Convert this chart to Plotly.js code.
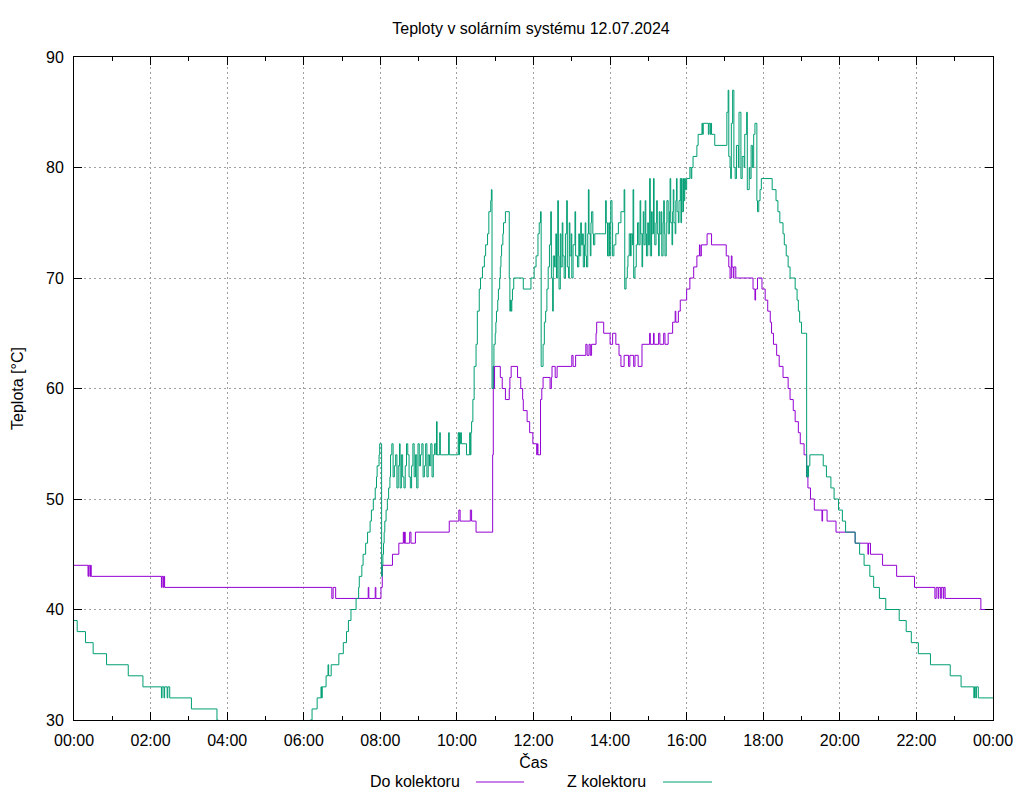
<!DOCTYPE html>
<html>
<head>
<meta charset="utf-8">
<script src="https://cdn.plot.ly/plotly-3.0.1.min.js"></script>
<style>html,body{margin:0;padding:0;background:#fff;}#chart{width:1024px;height:800px;}</style>
</head>
<body>
<div id="chart"></div>
<script>
const chartTitle = "Teploty v solárním systému 12.07.2024";
const xTitle = "Čas";
const yTitle = "Teplota [°C]";
const seriesNames = ["Do kolektoru", "Z kolektoru"];
const seriesColors = ["#9400d3", "#009e73"];
const day = "2024-07-12";
const nextDay = "2024-07-13";

const doTimes = [
"00:00","00:22","00:23","00:25","00:26","00:27","02:17","02:18","02:20","02:21",
"02:22","06:44","06:46","06:50","07:41","07:42","07:52","07:53","08:01","08:03",
"08:19","08:29","08:36","08:37","08:38","08:39","08:46","08:48","08:55","09:48",
"10:03","10:05","10:21","10:23","10:30","10:56","10:57","10:58","10:59","11:08",
"11:11","11:16","11:22","11:23","11:25","11:35","11:40","11:43","11:44","11:50",
"11:54","11:59","12:05","12:06","12:07","12:11","12:13","12:15","12:26","12:28",
"12:29","12:34","12:37","13:00","13:02","13:06","13:22","13:24","13:27","13:29",
"13:31","13:38","13:39","13:50","14:00","14:04","14:09","14:14","14:17","14:22",
"14:29","14:31","14:37","14:39","14:44","14:50","15:02","15:03","15:08","15:09",
"15:16","15:18","15:24","15:26","15:31","15:38","15:42","15:43","15:47","15:50",
"16:00","16:05","16:11","16:16","16:20","16:21","16:23","16:32","16:39","17:02",
"17:06","17:08","17:10","17:11","17:13","17:14","17:17","17:44","17:47","17:48",
"17:51","17:58","18:03","18:07","18:11","18:13","18:16","18:21","18:25","18:31",
"18:39","18:42","18:47","18:50","18:55","18:58","19:04","19:08","19:10","19:14",
"19:20","19:32","19:33","19:40","19:54","20:24","20:44","20:45","20:48","21:07",
"21:29","21:57","22:29","22:31","22:34","22:35","22:38","22:39","22:42","22:43",
"22:45","23:41","24:00"];
const doValues = [
44,43,44,43,44,43,42,43,42,43,
42,41,42,41,42,41,42,41,42,44,
45,46,47,46,47,46,47,46,47,48,
49,48,49,48,47,54,62,60,62,61,
60,59,60,61,62,61,60,59,58,57,
56,55,54,55,54,59,60,61,60,61,
62,61,62,63,62,63,64,63,64,63,
64,65,66,65,64,65,64,63,62,63,
62,63,62,63,62,64,65,64,65,64,
65,64,65,64,65,66,67,66,67,68,
69,70,71,72,73,72,73,74,73,72,
71,70,72,71,70,71,70,69,68,69,
70,69,68,67,66,65,64,63,62,61,
60,59,58,57,56,55,54,52,51,50,
49,48,49,48,47,46,45,46,45,44,
43,42,41,42,41,42,41,42,41,42,
41,40,40];

const zTimes = [
"00:00","00:05","00:18","00:30","00:51","01:25","01:48","02:17","02:18","02:21",
"02:22","02:26","02:27","02:30","03:04","03:44","03:46","06:10","06:13","06:21",
"06:27","06:28","06:29","06:35","06:38","06:39","06:43","06:55","07:02","07:07",
"07:10","07:14","07:22","07:26","07:27","07:31","07:33","07:37","07:40","07:44",
"07:46","07:49","07:52","07:54","07:55","07:58","07:59","08:02","08:03","08:04",
"08:05","08:06","08:07","08:09","08:11","08:13","08:15","08:16","08:18","08:20",
"08:22","08:24","08:26","08:28","08:30","08:31","08:33","08:35","08:37","08:39",
"08:41","08:43","08:45","08:47","08:49","08:51","08:53","08:55","08:57","08:59",
"09:01","09:03","09:05","09:07","09:09","09:11","09:13","09:15","09:17","09:19",
"09:21","09:23","09:25","09:27","09:28","09:29","09:33","09:34","09:47","09:48",
"10:02","10:03","10:04","10:05","10:06","10:07","10:15","10:20","10:21","10:22",
"10:23","10:25","10:27","10:30","10:32","10:35","10:37","10:40","10:43","10:45",
"10:48","10:50","10:53","10:54","10:55","10:57","10:58","11:00","11:01","11:02",
"11:04","11:05","11:07","11:08","11:09","11:10","11:12","11:13","11:16","11:22",
"11:23","11:24","11:25","11:26","11:27","11:29","11:44","11:56","12:01","12:04",
"12:07","12:09","12:11","12:12","12:15","12:17","12:19","12:21","12:23","12:25",
"12:27","12:28","12:30","12:31","12:33","12:35","12:36","12:38","12:39","12:40",
"12:42","12:43","12:45","12:46","12:48","12:50","12:52","12:53","12:55","12:56",
"12:57","12:59","13:00","13:02","13:05","13:06","13:09","13:11","13:12","13:14",
"13:15","13:17","13:18","13:20","13:21","13:22","13:23","13:25","13:26","13:27",
"13:29","13:30","13:31","13:33","13:34","13:36","13:53","13:54","13:56","13:58",
"13:59","14:01","14:03","14:04","14:06","14:09","14:13","14:17","14:22","14:23",
"14:25","14:27","14:28","14:30","14:32","14:33","14:35","14:36","14:37","14:39",
"14:41","14:43","14:45","14:47","14:48","14:50","14:51","14:52","14:53","14:55",
"14:56","14:57","14:59","15:00","15:02","15:03","15:05","15:06","15:08","15:09",
"15:10","15:12","15:13","15:14","15:16","15:17","15:18","15:20","15:21","15:23",
"15:24","15:25","15:26","15:28","15:29","15:31","15:33","15:34","15:35","15:37",
"15:38","15:39","15:40","15:42","15:43","15:44","15:45","15:47","15:48","15:50",
"15:51","15:52","15:53","15:55","15:56","15:57","15:58","16:00","16:05","16:07",
"16:08","16:10","16:16","16:18","16:24","16:25","16:26","16:34","16:35","16:37",
"16:38","16:39","16:44","17:03","17:05","17:06","17:08","17:09","17:10","17:12",
"17:14","17:16","17:18","17:21","17:22","17:25","17:27","17:30","17:31","17:34",
"17:35","17:38","17:39","17:41","17:43","17:45","17:47","17:50","17:51","17:53",
"17:55","17:57","18:14","18:20","18:23","18:26","18:31","18:33","18:36","18:39",
"18:42","18:50","18:53","18:55","18:57","19:00","19:08","19:09","19:10","19:11",
"19:13","19:34","19:39","19:46","19:51","19:58","20:04","20:09","20:24","20:31",
"20:38","20:47","20:53","21:02","21:12","21:33","21:44","21:52","22:03","22:22",
"22:53","23:10","23:30","23:31","23:33","23:34","23:37","24:00"];
const zValues = [
39,38,37,36,35,34,33,32,33,32,
33,32,33,32,31,30,28,30,31,32,
33,32,33,34,35,34,35,36,37,38,
39,40,41,42,43,44,45,46,47,48,
49,50,51,52,53,54,55,43,44,45,
46,47,48,49,50,51,52,54,55,52,
53,54,51,53,55,51,54,52,51,53,
55,54,52,51,53,55,52,54,51,55,
53,54,55,52,53,55,52,54,53,55,
52,54,55,54,57,54,56,54,56,54,
56,54,56,55,56,55,54,56,54,56,
57,59,62,64,67,69,70,71,72,73,
74,76,77,78,60,62,64,65,66,67,
68,69,70,71,72,73,74,75,76,70,
67,68,67,68,69,70,69,70,71,72,
74,75,76,62,64,66,67,69,71,73,
76,70,67,72,71,74,70,77,72,69,
74,71,75,72,70,74,77,71,70,75,
72,74,70,73,76,72,71,74,72,75,
73,74,71,73,75,72,71,74,78,74,
72,75,76,74,73,74,77,75,72,75,
72,77,75,72,73,74,75,76,78,69,
70,71,72,74,72,74,73,78,70,71,
73,75,73,77,74,71,74,76,73,77,
74,72,75,73,79,72,76,74,79,75,
73,75,77,74,72,76,74,76,72,75,
77,74,72,75,77,74,76,79,75,73,
76,78,75,74,77,79,76,75,77,79,
75,79,76,79,77,79,78,79,80,79,
80,81,82,83,84,83,84,83,84,83,
84,83,82,85,87,81,80,79,84,87,
80,79,82,80,85,79,81,80,83,85,
78,80,79,82,80,83,84,77,76,77,
78,79,78,77,76,75,74,73,72,71,
70,69,68,67,66,65,52,53,52,53,
54,53,52,51,50,49,48,47,46,45,
44,43,42,41,40,39,38,37,36,35,
34,33,32,33,32,33,32,32];

const yTicks = [30, 40, 50, 60, 70, 80, 90];

function toDate(t) {
  return t === "24:00" ? nextDay + " 00:00" : day + " " + t;
}

const traces = [
  {x: doTimes.map(toDate), y: doValues, name: seriesNames[0]},
  {x: zTimes.map(toDate), y: zValues, name: seriesNames[1]}
].map((t, i) => Object.assign(t, {
  type: "scatter", mode: "lines",
  line: {color: seriesColors[i], width: 1, shape: "hv"},
  showlegend: false, hoverinfo: "skip"
}));

// plot-area geometry in px, used to place the legend (text then sample, like gnuplot)
const L = 74, R = 993, T = 57, B = 720;
const px = v => (v - L) / (R - L);
const py = v => (B - v) / (B - T);

const legendItems = [
  {textRight: 462, x0: 476, x1: 524},
  {textRight: 648, x0: 663, x1: 712}
];

const annotations = legendItems.map((it, i) => ({
  xref: "paper", yref: "paper", x: px(it.textRight), y: py(781.5),
  xanchor: "right", yanchor: "middle", showarrow: false,
  text: seriesNames[i], font: {size: 16, color: "#000"}
}));
const shapes = legendItems.map((it, i) => ({
  type: "line", xref: "paper", yref: "paper",
  x0: px(it.x0), x1: px(it.x1), y0: py(782), y1: py(782),
  line: {color: seriesColors[i], width: 1}
}));

const gridCommon = {
  showgrid: true, gridcolor: "#a0a0a0", gridwidth: 1, griddash: "2px,3px",
  showline: true, linecolor: "#000", linewidth: 1, mirror: "ticks",
  ticks: "inside", ticklen: 8, tickwidth: 1, tickcolor: "#000",
  zeroline: false, automargin: false,
  tickfont: {size: 16, color: "#000"}
};

const layout = {
  width: 1024, height: 800,
  margin: {l: L, r: 1024 - R, t: T, b: 800 - B},
  paper_bgcolor: "#fff", plot_bgcolor: "#fff",
  font: {family: "Liberation Sans, Arial, sans-serif", size: 16, color: "#000"},
  title: {text: chartTitle, font: {size: 16, color: "#000"},
          xref: "container", yref: "container", x: 531 / 1024, y: 1 - 28 / 800,
          xanchor: "center", yanchor: "middle"},
  xaxis: Object.assign({}, gridCommon, {
    type: "date",
    range: [day + " 00:00", nextDay + " 00:00"],
    tick0: day + " 00:00", dtick: 7200000, tickformat: "%H:%M",
    ticklabelstandoff: 6,
    minor: {dtick: 3600000, tick0: day + " 00:00", ticks: "inside", ticklen: 4,
            tickcolor: "#000", tickwidth: 1, showgrid: false},
    title: {text: xTitle, font: {size: 16, color: "#000"}, standoff: 8}
  }),
  yaxis: Object.assign({}, gridCommon, {
    range: [30, 90], tickvals: yTicks, ticktext: yTicks.map(String),
    ticklabelstandoff: 6,
    title: {text: yTitle, font: {size: 16, color: "#000"}, standoff: 18}
  }),
  annotations: annotations,
  shapes: shapes
};

Plotly.newPlot("chart", traces, layout, {displayModeBar: false, staticPlot: true});
</script>
</body>
</html>
